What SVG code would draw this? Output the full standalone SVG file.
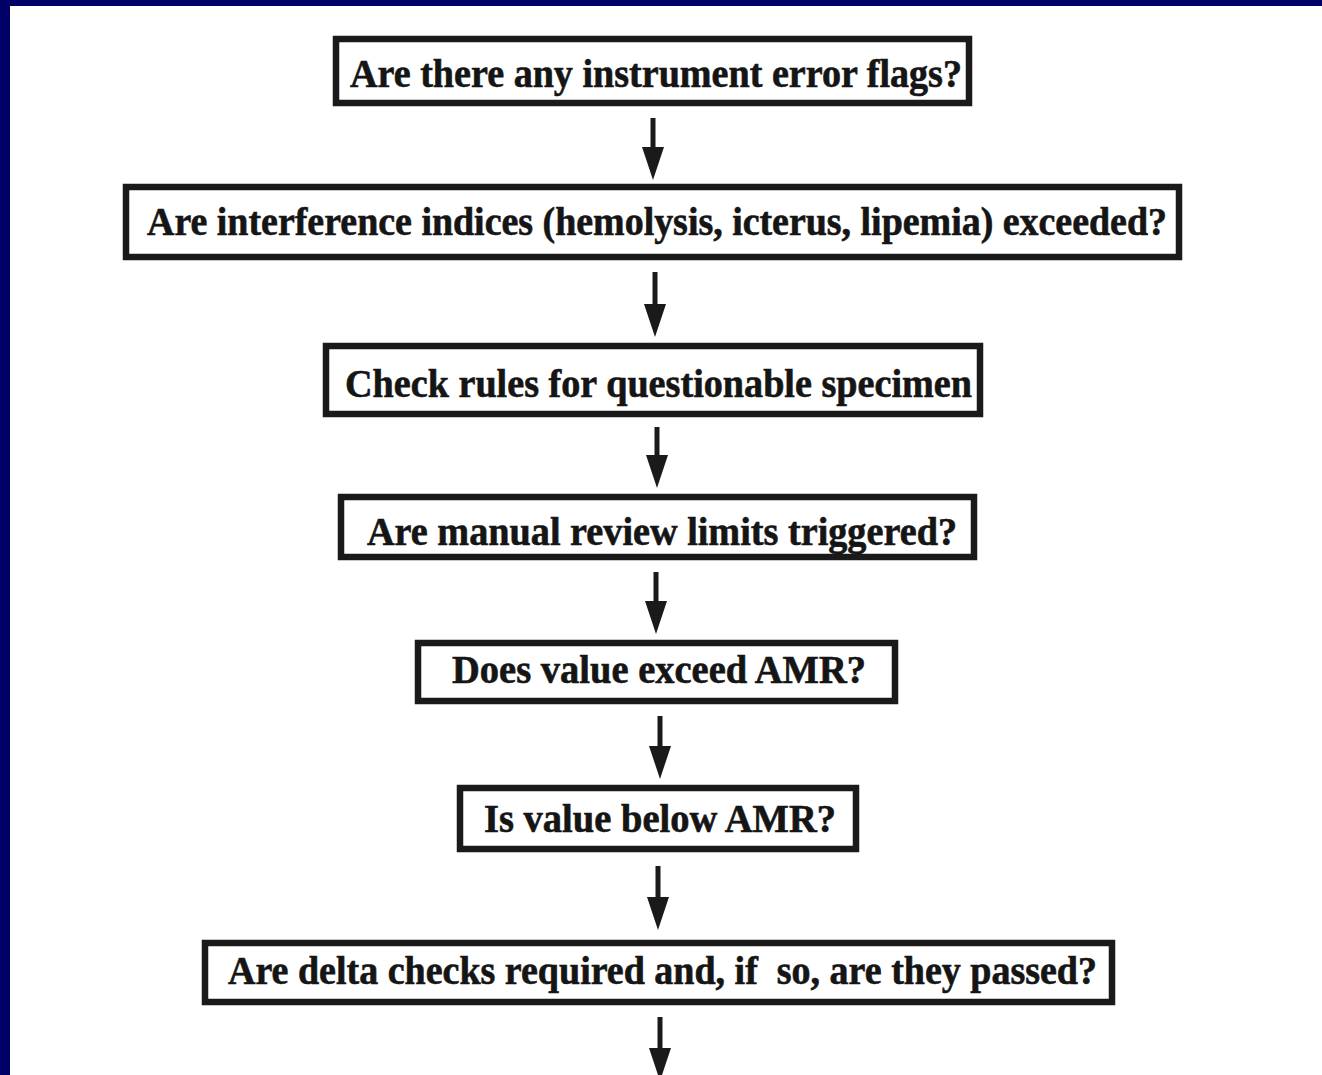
<svg xmlns="http://www.w3.org/2000/svg" width="1322" height="1075" viewBox="0 0 1322 1075">
<style>
.box{fill:#fff;stroke:#1a1a1a;stroke-width:6.5}
.t{font-family:"Liberation Serif","Times New Roman",serif;font-weight:bold;font-size:39px;fill:#151515;stroke:#151515;stroke-width:0.6}
.c{stroke:#1a1a1a;stroke-width:5;fill:none}
.h{fill:#1a1a1a}
</style>
<rect x="0" y="0" width="1322" height="1075" fill="#fff"/>
<rect x="0" y="0" width="1322" height="6" fill="#000066"/>
<rect x="0" y="0" width="10" height="1075" fill="#000066"/>
<g id="connectors">
<path d="M653,118 V148" class="c"/><path d="M642,147 H664 L653,180 Z" class="h"/>
<path d="M655,272 V305" class="c"/><path d="M644,304 H666 L655,337 Z" class="h"/>
<path d="M657,427 V456" class="c"/><path d="M646,455 H668 L657,488 Z" class="h"/>
<path d="M656,572 V602" class="c"/><path d="M645,601 H667 L656,634 Z" class="h"/>
<path d="M660,716 V747" class="c"/><path d="M649,746 H671 L660,779 Z" class="h"/>
<path d="M658,866 V898" class="c"/><path d="M647,897 H669 L658,930 Z" class="h"/>
<path d="M660,1017 V1049" class="c"/><path d="M649,1048 H671 L660,1081 Z" class="h"/>
</g>
<g id="n1"><rect class="box" x="336" y="39" width="633" height="64"/><text class="t" x="350" y="87" textLength="612" lengthAdjust="spacingAndGlyphs">Are there any instrument error flags?</text></g>
<g id="n2"><rect class="box" x="126" y="187" width="1053" height="70"/><text class="t" x="147" y="235" textLength="1020" lengthAdjust="spacingAndGlyphs">Are interference indices (hemolysis, icterus, lipemia) exceeded?</text></g>
<g id="n3"><rect class="box" x="326" y="346" width="654" height="68"/><text class="t" x="345" y="397" textLength="627" lengthAdjust="spacingAndGlyphs">Check rules for questionable specimen</text></g>
<g id="n4"><rect class="box" x="341" y="497" width="633" height="60"/><text class="t" x="367" y="545" textLength="590" lengthAdjust="spacingAndGlyphs">Are manual review limits triggered?</text></g>
<g id="n5"><rect class="box" x="418" y="643" width="477" height="58"/><text class="t" x="452" y="683" textLength="414" lengthAdjust="spacingAndGlyphs">Does value exceed AMR?</text></g>
<g id="n6"><rect class="box" x="460" y="788" width="396" height="61"/><text class="t" x="484" y="832" textLength="352" lengthAdjust="spacingAndGlyphs">Is value below AMR?</text></g>
<g id="n7"><rect class="box" x="205" y="943" width="907" height="59"/><text class="t" x="228" y="984" textLength="869" lengthAdjust="spacingAndGlyphs" xml:space="preserve">Are delta checks required and, if  so, are they passed?</text></g>
</svg>
